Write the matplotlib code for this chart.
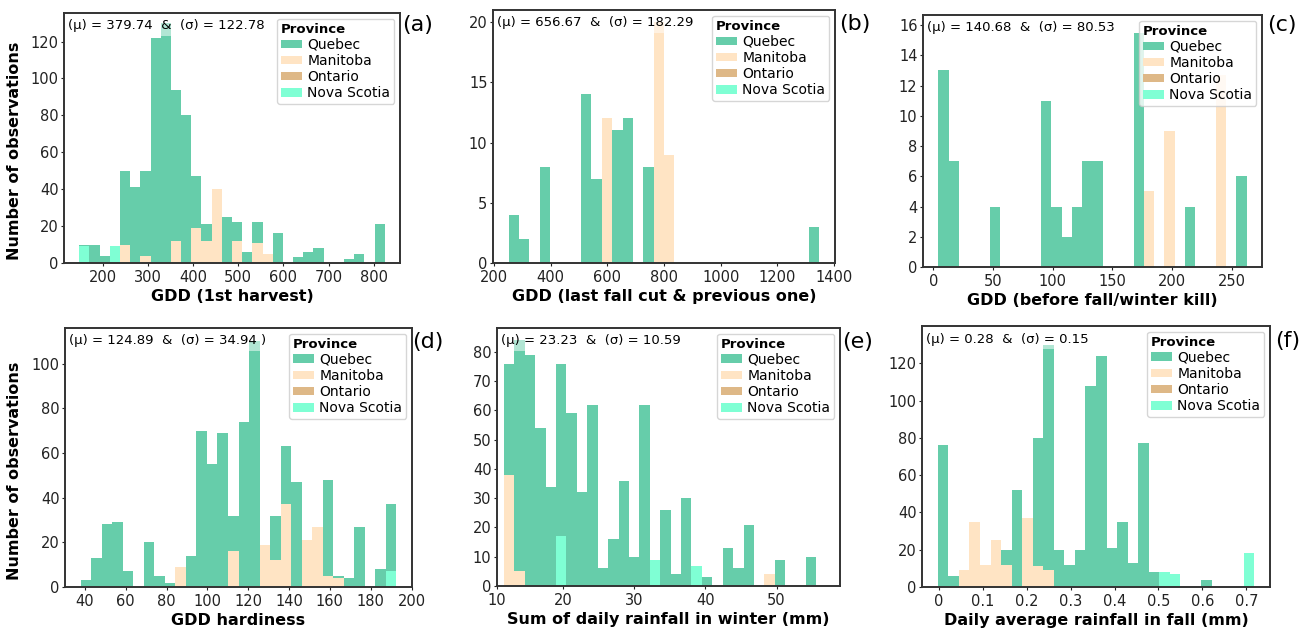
import numpy as np
import matplotlib.pyplot as plt

plt.rcParams['font.family'] = ['DejaVu Sans']

# ---------------- data (30 bins per panel, counts per province) ----------------
provinces = ['Quebec', 'Manitoba', 'Ontario', 'Nova Scotia']
colors = ['mediumaquamarine', 'bisque', 'burlywood', 'aquamarine']

# (a) GDD (1st harvest)
a_range = (148.1, 824.4)
a_quebec = [1, 10, 4, 0, 40, 41, 46, 122, 130, 82, 80, 28, 9, 0, 25, 10, 6, 11, 0, 16, 0, 3, 6, 8, 0, 0, 2, 5, 0, 21]
a_manitoba = [0, 0, 0, 0, 10, 0, 4, 0, 0, 12, 0, 19, 12, 40, 0, 12, 0, 11, 5, 0, 0, 0, 0, 0, 0, 0, 0, 0, 0, 0]
a_nova = [9, 0, 0, 9, 0, 0, 0, 0, 0, 0, 0, 0, 0, 0, 0, 0, 0, 0, 0, 0, 0, 0, 0, 0, 0, 0, 0, 0, 0, 0]

# (b) GDD (last fall cut & previous one)
b_range = (251.8, 1348.0)
b_quebec = [4, 2, 0, 8, 0, 0, 0, 14, 7, 0, 11, 12, 0, 8, 0, 0, 0, 0, 0, 0, 0, 0, 0, 0, 0, 0, 0, 0, 0, 3]
b_manitoba = [0, 0, 0, 0, 0, 0, 0, 0, 0, 12, 0, 0, 0, 0, 20, 9, 0, 0, 0, 0, 0, 0, 0, 0, 0, 0, 0, 0, 0, 0]
b_nova = [0] * 30

# (c) GDD (before fall/winter kill)
c_range = (4.2, 262.6)
c_quebec = [13, 7, 0, 0, 0, 4, 0, 0, 0, 0, 11, 4, 2, 4, 7, 7, 0, 0, 0, 15.5, 0, 0, 0, 0, 4, 0, 0, 0, 0, 6]
c_manitoba = [0, 0, 0, 0, 0, 0, 0, 0, 0, 0, 0, 0, 0, 0, 0, 0, 0, 0, 0, 0, 5, 0, 9, 0, 0, 0, 0, 12.7, 0, 0]
c_nova = [0] * 30

# (d) GDD hardiness
d_range = (38.0, 192.5)
d_quebec = [3, 13, 28, 29, 7, 0, 20, 5, 2, 0, 14, 70, 55, 69, 16, 74, 110, 0, 20, 26, 47, 0, 0, 43, 1, 4, 27, 0, 8, 30]
d_manitoba = [0, 0, 0, 0, 0, 0, 0, 0, 0, 9, 0, 0, 0, 0, 16, 0, 0, 19, 12, 37, 0, 21, 27, 5, 4, 0, 0, 0, 0, 0]
d_nova = [0] * 29 + [7]

# (e) Sum of daily rainfall in winter (mm)
e_range = (11.73, 55.6)
e_quebec = [38, 79, 79, 54, 34, 59, 59, 32, 62, 6, 16, 36, 10, 62, 0, 26, 4, 30, 0, 3, 0, 13, 6, 21, 0, 0, 9, 0, 0, 10]
e_manitoba = [38, 5, 0, 0, 0, 0, 0, 0, 0, 0, 0, 0, 0, 0, 0, 0, 0, 0, 0, 0, 0, 0, 0, 0, 0, 4, 0, 0, 0, 0]
e_nova = [0, 0, 0, 0, 0, 17, 0, 0, 0, 0, 0, 0, 0, 0, 9, 0, 0, 0, 7, 0, 0, 0, 0, 0, 0, 0, 0, 0, 0, 0]

# (f) Daily average rainfall in fall (mm)
f_range = (-0.0023, 0.718)
f_quebec = [76, 6, 0, 0, 0, 0, 8, 52, 0, 69, 121, 20, 12, 20, 108, 124, 21, 35, 13, 77, 8, 0, 0, 0, 0, 4, 0, 0, 0, 0]
f_manitoba = [0, 0, 9, 35, 12, 25, 12, 0, 37, 11, 9, 0, 0, 0, 0, 0, 0, 0, 0, 0, 0, 0, 0, 0, 0, 0, 0, 0, 0, 0]
f_nova = [0] * 21 + [8, 7, 0, 0, 0, 0, 0, 0, 18]

stats = ['(\u03bc) = 379.74  &  (\u03c3) = 122.78',
         '(\u03bc) = 656.67  &  (\u03c3) = 182.29',
         '(\u03bc) = 140.68  &  (\u03c3) = 80.53',
         '(\u03bc) = 124.89  &  (\u03c3) = 34.94 )',
         '(\u03bc) = 23.23  &  (\u03c3) = 10.59',
         '(\u03bc) = 0.28  &  (\u03c3) = 0.15']
xlabels = ['GDD (1st harvest)', 'GDD (last fall cut & previous one)', 'GDD (before fall/winter kill)',
           'GDD hardiness', 'Sum of daily rainfall in winter (mm)', 'Daily average rainfall in fall (mm)']
letters = ['(a)', '(b)', '(c)', '(d)', '(e)', '(f)']

W, H = 1311, 629
fig = plt.figure(figsize=(W / 100, H / 100), dpi=100)


def px_axes(x0, y0, x1, y1):
    return fig.add_axes([x0 / W, 1 - y1 / H, (x1 - x0) / W, (y1 - y0) / H])


def panel(ax, rng, q, m, ns, stat, xlabel, ylim):
    q, m, ns = np.array(q, float), np.array(m, float), np.array(ns, float)
    on = np.zeros_like(q)
    edges = np.linspace(rng[0], rng[1], len(q) + 1)
    left, width = edges[:-1], np.diff(edges)
    bottom = np.zeros_like(q)
    handles = {}
    # stacking: Nova Scotia at bottom, Quebec on top
    for name, vals in [('Nova Scotia', ns), ('Ontario', on), ('Manitoba', m), ('Quebec', q)]:
        c = colors[provinces.index(name)]
        handles[name] = ax.bar(left, vals, width, bottom=bottom, align='edge', color=c,
                               linewidth=0, label=name)
        bottom = bottom + vals
    ax.set_ylim(0, ylim)
    leg = ax.legend([handles[p] for p in provinces], provinces, title='Province', loc='upper right',
                    fontsize=10, title_fontsize=9.5, labelspacing=0.15, handlelength=1.5,
                    handleheight=0.6, handletextpad=0.4, borderpad=0.3, borderaxespad=0.4,
                    edgecolor='#cccccc')
    leg.get_title().set_fontweight('bold')
    leg._legend_box.align = 'left'
    ax.text(0.012, 0.975, stat, transform=ax.transAxes, ha='left', va='top', fontsize=9.5,
            bbox=dict(facecolor='white', alpha=0.5, edgecolor='none', pad=2.5))
    ax.set_xlabel(xlabel, fontsize=11.5, fontweight='bold', labelpad=3)
    for s in ax.spines.values():
        s.set_color('#333333')
        s.set_linewidth(1.4)
    ax.tick_params(labelsize=10.5, length=2, width=0.8, pad=2, colors='#222222')
    ax.tick_params(axis='x', pad=3)


boxes = [(64, 13, 400, 263), (493, 10, 835, 263), (923, 15, 1262, 267),
         (65, 328, 412, 587), (497, 328, 840, 586), (922, 326, 1270, 587)]
ranges = [a_range, b_range, c_range, d_range, e_range, f_range]
quebec = [a_quebec, b_quebec, c_quebec, d_quebec, e_quebec, f_quebec]
manitoba = [a_manitoba, b_manitoba, c_manitoba, d_manitoba, e_manitoba, f_manitoba]
nova = [a_nova, b_nova, c_nova, d_nova, e_nova, f_nova]
ylims = [135.5, 21, 16.67, 116, 88.2, 140]
letter_pos = [(418, 25), (855, 24), (1282, 25), (428, 342), (858, 342), (1288, 341)]

axes = []
for i in range(6):
    ax = px_axes(*boxes[i])
    panel(ax, ranges[i], quebec[i], manitoba[i], nova[i], stats[i], xlabels[i], ylims[i])
    fig.text(letter_pos[i][0] / W, 1 - letter_pos[i][1] / H, letters[i], fontsize=16,
             ha='center', va='center')
    axes.append(ax)

axes[0].set_xticks([200, 300, 400, 500, 600, 700, 800])
axes[0].set_yticks([0, 20, 40, 60, 80, 100, 120])
axes[1].set_xticks([200, 400, 600, 800, 1000, 1200, 1400])
axes[1].set_yticks([0, 5, 10, 15, 20])
axes[2].set_xticks([0, 50, 100, 150, 200, 250])
axes[2].set_yticks([0, 2, 4, 6, 8, 10, 12, 14, 16])
axes[3].set_xticks([40, 60, 80, 100, 120, 140, 160, 180, 200])
axes[3].set_yticks([0, 20, 40, 60, 80, 100])
axes[4].set_xlim(10.75, 58.9)
axes[4].set_xticks([10.75, 20, 30, 40, 50])
axes[4].set_xticklabels(['10', '20', '30', '40', '50'])
axes[4].set_yticks([0, 10, 20, 30, 40, 50, 60, 70, 80])
axes[5].set_xticks([0, 0.1, 0.2, 0.3, 0.4, 0.5, 0.6, 0.7])
axes[5].set_xticklabels(['0', '0.1', '0.2', '0.3', '0.4', '0.5', '0.6', '0.7'])
axes[5].set_yticks([0, 20, 40, 60, 80, 100, 120])

for ax in (axes[0], axes[3]):
    ax.set_ylabel('Number of observations', fontsize=11.5, fontweight='bold')
    ax.yaxis.set_label_coords(-0.125, 0.45)

fig.savefig('out.png', dpi=100)
